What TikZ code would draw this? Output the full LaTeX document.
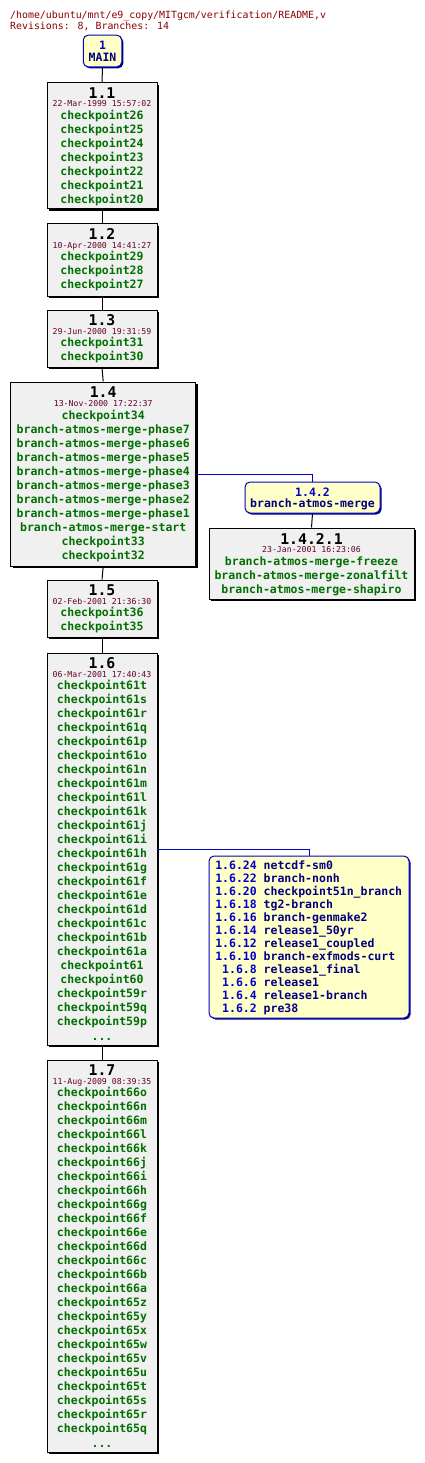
\documentclass[tikz,border=0pt]{standalone}
\usepackage{fontspec}
\usetikzlibrary{shadows}
\newfontfamily\monof{DejaVu Sans Mono}
\definecolor{cpgreen}{RGB}{0,112,0}
\definecolor{datecol}{RGB}{100,0,40}
\definecolor{headcol}{RGB}{140,0,0}
\definecolor{boxgray}{RGB}{240,240,240}
\definecolor{yelfill}{RGB}{255,255,200}
\definecolor{bblue}{RGB}{0,0,200}
\definecolor{navy}{RGB}{0,0,128}
\tikzset{
  revbox/.style={draw=black, line width=1pt, fill=boxgray, inner sep=0pt,
    drop shadow={shadow xshift=2pt, shadow yshift=-2pt, opacity=1, fill=black}},
  tagbox/.style={draw=bblue, line width=1pt, fill=yelfill, inner sep=0pt, rounded corners=5pt,
    drop shadow={shadow xshift=1.5pt, shadow yshift=-1.5pt, opacity=1, fill=navy}},
  item/.style={anchor=base, inner sep=0pt, text=cpgreen, font=\monof\bfseries\fontsize{11.5}{13}\selectfont},
  rtitle/.style={anchor=base, inner sep=0pt, text=black, font=\monof\bfseries\fontsize{14.8}{16}\selectfont},
  rdate/.style={anchor=base, inner sep=0pt, text=datecol, font=\monof\fontsize{8.2}{9}\selectfont},
  tagnum/.style={inner sep=0pt, text=bblue, font=\monof\bfseries\fontsize{11.5}{13}\selectfont},
  tagname/.style={inner sep=0pt, text=navy, font=\monof\bfseries\fontsize{11.5}{13}\selectfont},
  head/.style={anchor=base west, inner sep=0pt, text=headcol, font=\monof\fontsize{9.9}{11}\selectfont},
  conn/.style={draw=black, line width=1pt},
  bconn/.style={draw=bblue, line width=1pt},
}
\begin{document}
\begin{tikzpicture}[x=1pt,y=-1pt]
\useasboundingbox (0,0) rectangle (425,1463);
\fill[white] (0,0) rectangle (425,1463);

% header
\node[head] (h1) at (10,18.3) {/home/ubuntu/mnt/e9\_copy/MITgcm/verification/README,v};
\node[head] (h2) at (10,29.3) {Revisions: 8, Branches: 14};

% MAIN
\node[tagbox, minimum width=38.5pt, minimum height=31.7pt] (main) at (102.5,51) {};
\node[tagnum, anchor=base] (mainn) at (102.5,50) {1};
\node[tagname, anchor=base] (mainl) at (102.5,61.7) {MAIN};

% boxes
\node[revbox, minimum width=110pt, minimum height=126.3pt] (r11) at (102,145.85) {};
\node[revbox, minimum width=110pt, minimum height=72pt] (r12) at (102,260) {};
\node[revbox, minimum width=110pt, minimum height=57pt] (r13) at (102,338.5) {};
\node[revbox, minimum width=185pt, minimum height=184pt] (r14) at (103.2,474) {};
\node[tagbox, minimum width=135pt, minimum height=31pt] (b142) at (312.5,497.5) {};
\node[revbox, minimum width=205pt, minimum height=71pt] (r1421) at (311.5,563.5) {};
\node[revbox, minimum width=110pt, minimum height=57pt] (r15) at (102,608.5) {};
\node[revbox, minimum width=110pt, minimum height=392pt] (r16) at (102,849) {};
\node[tagbox, minimum width=200pt, minimum height=162pt] (blist) at (309,937) {};
\node[revbox, minimum width=110pt, minimum height=392pt] (r17) at (102,1256) {};

% connectors
\draw[conn] (main.south) -- (r11.north);
\draw[conn] (r11.south) -- (r12.north);
\draw[conn] (r12.south) -- (r13.north);
\draw[conn] (r13.south) -- (r14.north);
\draw[conn] (r14.south) -- (r15.north);
\draw[conn] (r15.south) -- (r16.north);
\draw[conn] (r16.south) -- (r17.north);
\draw[bconn] (r14.east) -| (b142.north);
\draw[conn] (b142.south) -- (r1421.north);
\draw[bconn] (r16.east) -| (blist.north);

% 1.1
\node[rtitle] (t11) at (102,98.3) {1.1};
\node[rdate] (d11) at (102,106.9) {22-Mar-1999 15:57:02};
\foreach \t [count=\i from 0] in {checkpoint26,checkpoint25,checkpoint24,checkpoint23,checkpoint22,checkpoint21,checkpoint20}
  \node[item] (i11-\i) at (102,{119.5+14*\i}) {\t};

% 1.2
\node[rtitle] (t12) at (102,239.6) {1.2};
\node[rdate] (d12) at (102,248.2) {10-Apr-2000 14:41:27};
\foreach \t [count=\i from 0] in {checkpoint29,checkpoint28,checkpoint27}
  \node[item] (i12-\i) at (102,{260.8+14*\i}) {\t};

% 1.3
\node[rtitle] (t13) at (102,325.6) {1.3};
\node[rdate] (d13) at (102,334.2) {29-Jun-2000 19:31:59};
\foreach \t [count=\i from 0] in {checkpoint31,checkpoint30}
  \node[item] (i13-\i) at (102,{346.8+14*\i}) {\t};

% 1.4
\node[rtitle] (t14) at (103.2,397.6) {1.4};
\node[rdate] (d14) at (103.2,406.4) {13-Nov-2000 17:22:37};
\foreach \t [count=\i from 0] in {checkpoint34,branch-atmos-merge-phase7,branch-atmos-merge-phase6,branch-atmos-merge-phase5,branch-atmos-merge-phase4,branch-atmos-merge-phase3,branch-atmos-merge-phase2,branch-atmos-merge-phase1,branch-atmos-merge-start,checkpoint33,checkpoint32}
  \node[item] (i14-\i) at (103.2,{419.2+14*\i}) {\t};

% 1.4.2
\node[tagnum, anchor=base] (n142) at (312.5,496) {1.4.2};
\node[tagname, anchor=base] (l142) at (312.5,507.5) {branch-atmos-merge};

% 1.4.2.1
\node[rtitle] (t1421) at (311.5,544) {1.4.2.1};
\node[rdate] (d1421) at (311.5,552.5) {23-Jan-2001 16:23:06};
\foreach \t [count=\i from 0] in {branch-atmos-merge-freeze,branch-atmos-merge-zonalfilt,branch-atmos-merge-shapiro}
  \node[item] (i1421-\i) at (311.5,{565+14*\i}) {\t};

% 1.5
\node[rtitle] (t15) at (102,595.6) {1.5};
\node[rdate] (d15) at (102,604.2) {02-Feb-2001 21:36:30};
\foreach \t [count=\i from 0] in {checkpoint36,checkpoint35}
  \node[item] (i15-\i) at (102,{616.8+14*\i}) {\t};

% 1.6
\node[rtitle] (t16) at (102,668.6) {1.6};
\node[rdate] (d16) at (102,677.2) {06-Mar-2001 17:40:43};
\foreach \t [count=\i from 0] in {checkpoint61t,checkpoint61s,checkpoint61r,checkpoint61q,checkpoint61p,checkpoint61o,checkpoint61n,checkpoint61m,checkpoint61l,checkpoint61k,checkpoint61j,checkpoint61i,checkpoint61h,checkpoint61g,checkpoint61f,checkpoint61e,checkpoint61d,checkpoint61c,checkpoint61b,checkpoint61a,checkpoint61,checkpoint60,checkpoint59r,checkpoint59q,checkpoint59p}
  \node[item] (i16-\i) at (102,{689.8+14*\i}) {\t};
\node[item] (e16) at (102,1040.5) {...};

% branch list
\foreach \n/\t [count=\i from 0] in {1.6.24/netcdf-sm0,1.6.22/branch-nonh,1.6.20/checkpoint51n\_branch,1.6.18/tg2-branch,1.6.16/branch-genmake2,1.6.14/release1\_50yr,1.6.12/release1\_coupled,1.6.10/branch-exfmods-curt,1.6.8/release1\_final,1.6.6/release1,1.6.4/release1-branch,1.6.2/pre38}
{
  \node[tagnum, anchor=base east] (bn-\i) at (257,{869.3+13*\i}) {\n};
  \node[tagname, anchor=base west] (bl-\i) at (263.5,{869.3+13*\i}) {\t};
}

% 1.7
\node[rtitle] (t17) at (102,1075.6) {1.7};
\node[rdate] (d17) at (102,1084.2) {11-Aug-2009 08:39:35};
\foreach \t [count=\i from 0] in {checkpoint66o,checkpoint66n,checkpoint66m,checkpoint66l,checkpoint66k,checkpoint66j,checkpoint66i,checkpoint66h,checkpoint66g,checkpoint66f,checkpoint66e,checkpoint66d,checkpoint66c,checkpoint66b,checkpoint66a,checkpoint65z,checkpoint65y,checkpoint65x,checkpoint65w,checkpoint65v,checkpoint65u,checkpoint65t,checkpoint65s,checkpoint65r,checkpoint65q}
  \node[item] (i17-\i) at (102,{1096.8+14*\i}) {\t};
\node[item] (e17) at (102,1447.5) {...};
\end{tikzpicture}
\end{document}
